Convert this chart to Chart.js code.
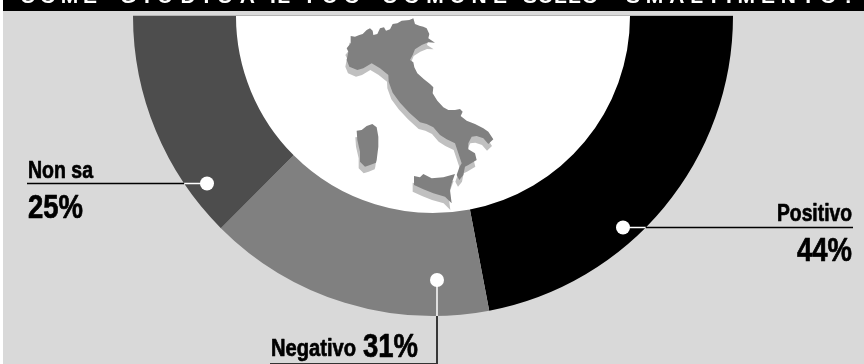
<!DOCTYPE html>
<html lang="it">
<head>
<meta charset="utf-8">
<title>Come giudica il tuo comune</title>
<script src="https://cdn.jsdelivr.net/npm/chart.js@4"></script>
<style>
  html, body { margin: 0; padding: 0; background: #fff; }
  canvas { display: block; }
</style>
</head>
<body>
<canvas id="graph1" width="864" height="364"></canvas>
<script>
const titleWords = ['COME', 'GIUDICA', 'IL', 'TUO', 'COMUNE', 'SULLO', 'SMALTIMENTO?'];
const titleSpans = [[20, 97], [120, 255], [270, 290], [303, 360], [382, 507], [523, 598], [626, 855]];
const categories = ['Positivo', 'Negativo', 'Non sa'];
const values = [44, 31, 25];
const sliceColors = ['#000000', '#808080', '#4d4d4d'];

// outline of the country, in thirds of a pixel, relative to the hole
const mainland = [[92,78],[105,80],[118,75],[128,72],[140,60],[150,55],[158,62],[160,75],[172,72],[180,55],[192,52],[198,62],[210,58],[218,42],[232,40],[245,32],[268,30],[280,25],[285,42],[298,47],[310,50],[320,55],[328,72],[325,85],[345,98],[325,97],[305,105],[285,118],[278,135],[270,150],[280,157],[283,172],[292,190],[312,208],[330,222],[340,232],[338,250],[352,272],[370,292],[385,300],[405,300],[420,297],[428,305],[422,318],[440,332],[465,342],[490,355],[505,365],[520,388],[505,402],[490,385],[470,378],[455,380],[445,400],[445,418],[465,430],[470,450],[445,465],[435,470],[430,495],[418,510],[410,495],[418,472],[425,460],[415,430],[405,400],[380,388],[360,375],[340,352],[320,342],[300,337],[268,308],[240,278],[218,248],[206,215],[205,195],[180,175],[155,160],[130,175],[112,180],[88,170],[80,150],[85,125],[80,115],[92,100]];
const sardinia = [[110,362],[125,360],[140,348],[157,342],[170,352],[175,380],[175,410],[170,450],[168,458],[150,465],[135,470],[120,455],[120,425],[112,390]];
const sicily = [[282,498],[300,502],[310,492],[335,505],[370,502],[405,492],[395,520],[390,540],[395,580],[375,560],[340,550],[310,538],[282,525]];

// where each callout sits, relative to the centre of the ring
const callouts = {
  'Positivo': { dot: [190, 211.5] },
  'Negativo': { dot: [4, 264] },
  'Non sa': { dot: [-226, 167.5] }
};

function textFit (ctx, str, font, x, y, width, align) {
  ctx.save();
  ctx.font = font;
  ctx.textBaseline = 'alphabetic';
  ctx.textAlign = 'left';
  const natural = ctx.measureText(str).width;
  const sx = width / natural;
  ctx.translate(align === 'right' ? x - width : x, y);
  ctx.scale(sx, 1);
  ctx.fillStyle = '#000';
  ctx.strokeStyle = '#000';
  ctx.lineWidth = 0.7;
  ctx.lineJoin = 'round';
  ctx.strokeText(str, 0, 0);
  ctx.fillText(str, 0, 0);
  ctx.restore();
}

function polygon (ctx, pts, dx, dy) {
  ctx.beginPath();
  pts.forEach((p, i) => {
    if (i === 0) ctx.moveTo(p[0] + dx, p[1] + dy);
    else ctx.lineTo(p[0] + dx, p[1] + dy);
  });
  ctx.closePath();
  ctx.fill();
}

const backdrop = {
  id: 'backdrop',
  beforeDraw (chart) {
    const ctx = chart.ctx;
    ctx.save();
    ctx.fillStyle = '#d9d9d9';
    ctx.fillRect(3, 11, 861, 353);
    ctx.fillStyle = '#000';
    ctx.fillRect(3, 0, 861, 11);
    ctx.restore();
  },
  beforeDatasetsDraw (chart) {
    const ctx = chart.ctx;
    const arc = chart.getDatasetMeta(0).data[0];
    // the white half disc inside the ring, with the map on it
    ctx.save();
    ctx.fillStyle = '#fff';
    ctx.beginPath();
    ctx.arc(arc.x, arc.y, arc.innerRadius + 1, 0, Math.PI);
    ctx.closePath();
    ctx.fill();
    ctx.translate(arc.x - 113, arc.y - 6);
    ctx.scale(1 / 3, 1 / 3);
    ctx.fillStyle = '#c0c0c0';
    [mainland, sardinia, sicily].forEach(p => polygon(ctx, p, -4, 20));
    ctx.fillStyle = '#808080';
    [mainland, sardinia, sicily].forEach(p => polygon(ctx, p, 0, 0));
    ctx.restore();
  },
  afterDatasetsDraw (chart) {
    const ctx = chart.ctx;
    const arc = chart.getDatasetMeta(0).data[0];
    const cx = arc.x;
    const cy = arc.y;
    const R = arc.outerRadius;

    ctx.save();
    // thin rule along the flat top of the ring
    ctx.fillStyle = '#b4b4b4';
    ctx.fillRect(cx - R, cy - 1, R * 2, 1);

    // title, only its foot fits above the edge
    ctx.fillStyle = '#fff';
    ctx.font = 'bold 21px "Liberation Sans", sans-serif';
    ctx.textBaseline = 'alphabetic';
    titleWords.forEach((word, i) => {
      const [from, to] = titleSpans[i];
      ctx.letterSpacing = '0px';
      const w = ctx.measureText(word).width;
      ctx.letterSpacing = ((to - from - w) / (word.length - 1)) + 'px';
      ctx.fillText(word, from, 3);
    });
    ctx.letterSpacing = '0px';

    categories.forEach(name => {
      const [dx, dy] = callouts[name].dot;
      const x = cx + dx;
      const y = cy + dy;
      ctx.lineWidth = 1.5;
      if (name === 'Negativo') {
        const edge = cy + Math.sqrt(R * R - dx * dx);
        ctx.strokeStyle = '#fff';
        ctx.beginPath(); ctx.moveTo(x, y); ctx.lineTo(x, edge); ctx.stroke();
        ctx.strokeStyle = '#000';
        ctx.beginPath(); ctx.moveTo(x, edge); ctx.lineTo(x, 364); ctx.stroke();
        ctx.lineWidth = 1;
        ctx.strokeStyle = '#333';
        ctx.beginPath(); ctx.moveTo(270, 363.5); ctx.lineTo(x, 363.5); ctx.stroke();
      } else {
        const side = dx < 0 ? -1 : 1;
        const edge = cx + side * Math.sqrt(R * R - dy * dy);
        const end = dx < 0 ? 27 : 853;
        ctx.strokeStyle = '#fff';
        ctx.beginPath(); ctx.moveTo(x, y); ctx.lineTo(edge, y); ctx.stroke();
        ctx.strokeStyle = '#000';
        ctx.beginPath(); ctx.moveTo(edge, y); ctx.lineTo(end, y); ctx.stroke();
      }
      ctx.fillStyle = '#fff';
      ctx.beginPath();
      ctx.arc(x, y, 7, 0, Math.PI * 2);
      ctx.fill();
    });

    const pct = i => values[i] + '%';
    const label = 'bold 24px "Liberation Sans Narrow", "Liberation Sans", sans-serif';
    const big = 'bold 34px "Liberation Sans Narrow", "Liberation Sans", sans-serif';
    textFit(ctx, categories[2], label, 28, 178, 65);
    textFit(ctx, pct(2), big, 28, 218, 55);
    textFit(ctx, categories[0], label, 852, 221, 75, 'right');
    textFit(ctx, pct(0), big, 852, 261, 55, 'right');
    textFit(ctx, categories[1], label, 271, 356, 85);
    textFit(ctx, pct(1), big, 363, 356.5, 55);
    ctx.restore();
  }
};

new Chart(document.getElementById('graph1'), {
  type: 'doughnut',
  data: {
    labels: categories,
    datasets: [{
      data: values,
      backgroundColor: sliceColors,
      borderWidth: 0
    }]
  },
  options: {
    responsive: false,
    animation: false,
    rotation: 90,
    circumference: 180,
    cutout: '65.67%',
    layout: { padding: { left: 133, right: 131, top: 16, bottom: 48 } },
    plugins: {
      legend: { display: false },
      tooltip: { enabled: false }
    }
  },
  plugins: [backdrop]
});
</script>
</body>
</html>
